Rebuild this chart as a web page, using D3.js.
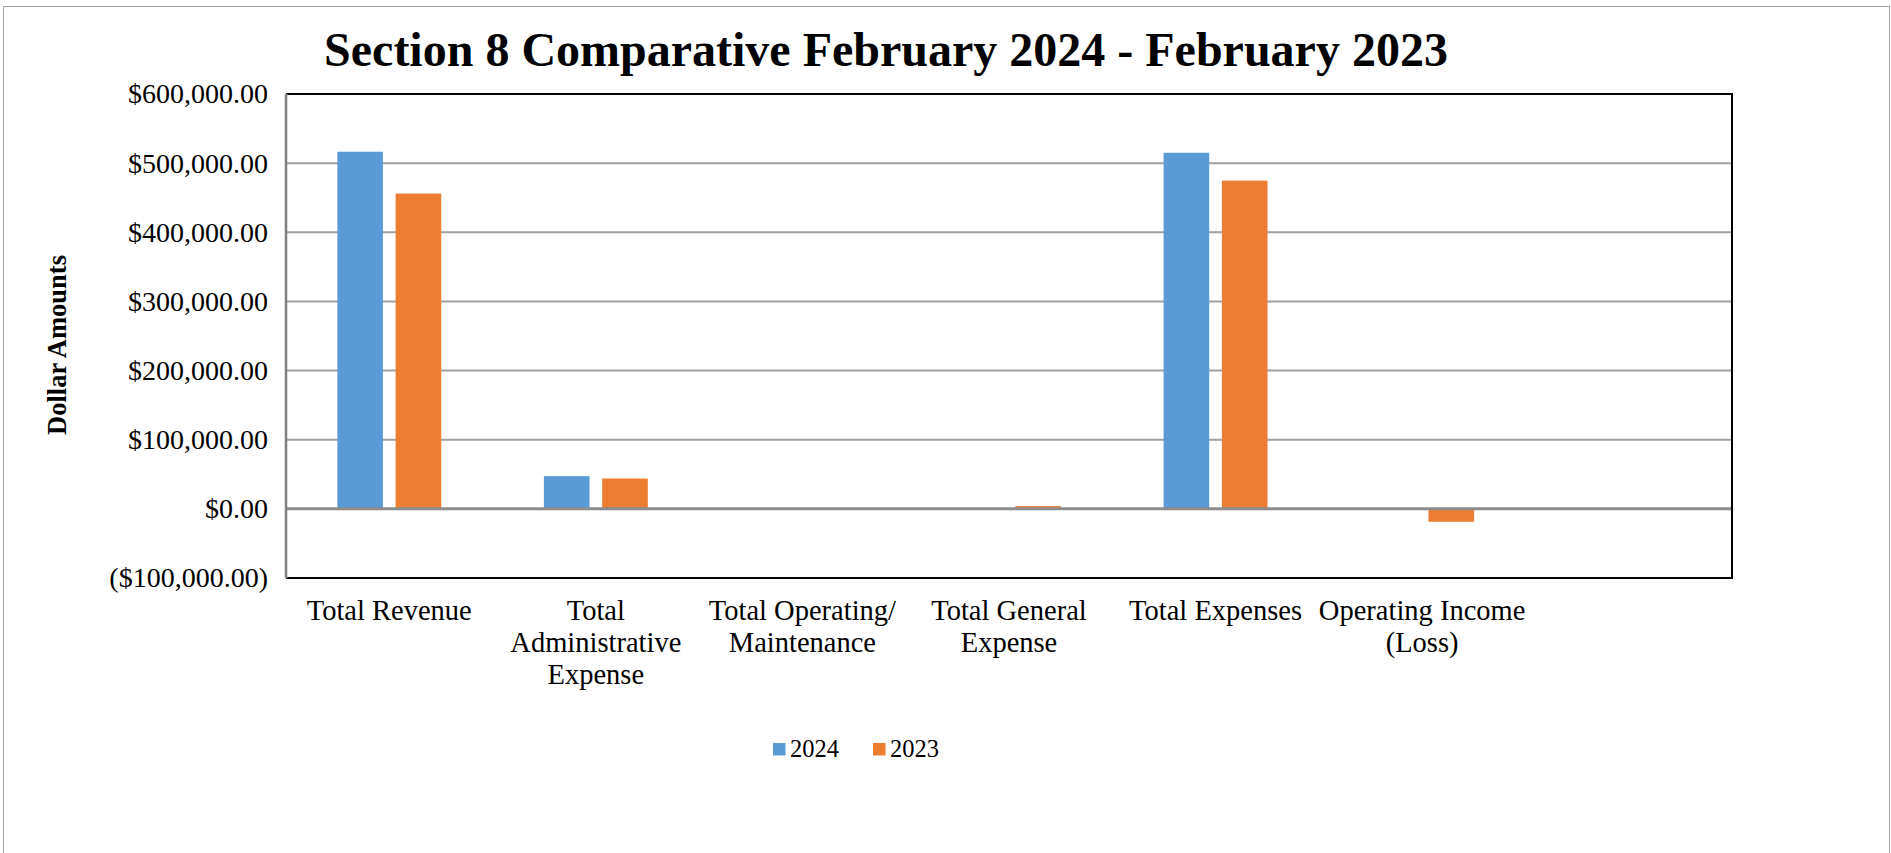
<!DOCTYPE html>
<html>
<head>
<meta charset="utf-8">
<script src="https://cdn.jsdelivr.net/npm/d3@7"></script>
<style>
  html, body { margin: 0; padding: 0; background: #fff; }
  svg { display: block; }
  text { font-family: "Liberation Serif", "Times New Roman", serif; fill: #000; }
</style>
</head>
<body>
<svg id="chart" width="1891" height="853"></svg>
<script>
// Categories (the last slot is an empty category, as in the workbook)
const categories = [
  "Total Revenue",
  "Total Administrative Expense",
  "Total Operating/ Maintenance",
  "Total General Expense",
  "Total Expenses",
  "Operating Income (Loss)",
  ""
];
// Wrapped label lines for each category
const categoryLines = [
  ["Total Revenue"],
  ["Total", "Administrative", "Expense"],
  ["Total Operating/", "Maintenance"],
  ["Total General", "Expense"],
  ["Total Expenses"],
  ["Operating Income", "(Loss)"],
  []
];
const seriesNames = ["2024", "2023"];
const values2024 = [516500, 47300, 0, 0, 515000, 1500, null];
const values2023 = [456000, 43900, 0, 4000, 474700, -18700, null];
const seriesColors = ["#5B9BD5", "#ED7D31"];
const tickValues = [-100000, 0, 100000, 200000, 300000, 400000, 500000, 600000];
const titleText = "Section 8 Comparative February 2024 - February 2023";
const yAxisTitle = "Dollar Amounts";

const svg = d3.select("#chart");
const W = 1891, H = 853;
const plot = { left: 286, right: 1732, top: 94, bottom: 578 };
const serif = '"Liberation Serif", "Times New Roman", serif';

// outer chart frame
svg.append("rect")
  .attr("x", 3.5).attr("y", 6.5)
  .attr("width", W - 5).attr("height", H)
  .attr("fill", "#fff").attr("stroke", "#a6a6a6").attr("stroke-width", 1);

const y = d3.scaleLinear().domain([-100000, 600000]).range([plot.bottom, plot.top]);
const x0 = d3.scaleBand().domain(categories).range([plot.left, plot.right])
  .paddingInner(0.497).paddingOuter(0.2485);
const x1 = d3.scaleBand().domain(seriesNames).range([0, x0.bandwidth()]).paddingInner(0.2175);

const fmt = v => {
  const s = "$" + d3.format(",.2f")(Math.abs(v));
  return v < 0 ? "(" + s + ")" : s;
};

// gridlines
svg.append("g")
  .selectAll("line")
  .data(tickValues.filter(v => v !== 0 && v !== -100000 && v !== 600000))
  .join("line")
  .attr("x1", plot.left).attr("x2", plot.right)
  .attr("y1", d => y(d)).attr("y2", d => y(d))
  .attr("stroke", "#a0a0a0").attr("stroke-width", 2);

// y axis labels
const yAxis = d3.axisLeft(y).tickValues(tickValues).tickFormat(fmt).tickSize(0).tickPadding(18);
const gy = svg.append("g").attr("transform", `translate(${plot.left},0)`).call(yAxis);
gy.select(".domain").remove();
gy.selectAll("text")
  .style("font-family", serif)
  .style("font-size", "28px").attr("fill", "#000");

// bars
const rows = categories.map((c, i) => ({ c, vals: [values2024[i], values2023[i]] }));
const groups = svg.append("g").selectAll("g").data(rows).join("g")
  .attr("transform", d => `translate(${x0(d.c)},0)`);
groups.selectAll("rect")
  .data(d => d.vals.map((v, k) => ({ v, k })).filter(e => e.v !== null && e.v !== 0))
  .join("rect")
  .attr("x", e => x1(seriesNames[e.k]))
  .attr("width", x1.bandwidth())
  .attr("y", e => Math.min(y(e.v), y(0)))
  .attr("height", e => Math.abs(y(e.v) - y(0)))
  .attr("fill", e => seriesColors[e.k]);

// zero line
svg.append("line")
  .attr("x1", plot.left).attr("x2", plot.right)
  .attr("y1", y(0)).attr("y2", y(0))
  .attr("stroke", "#8c8c8c").attr("stroke-width", 3);

// plot frame: black top/right/bottom, grey left axis
svg.append("path")
  .attr("d", `M${plot.left},${plot.top}H${plot.right}V${plot.bottom}H${plot.left}`)
  .attr("fill", "none").attr("stroke", "#000").attr("stroke-width", 2);
svg.append("line")
  .attr("x1", plot.left).attr("x2", plot.left)
  .attr("y1", plot.top).attr("y2", plot.bottom)
  .attr("stroke", "#808080").attr("stroke-width", 2.5);

// category labels
const catG = svg.append("g");
categories.forEach((c, i) => {
  const cx = x0(c) + x0.bandwidth() / 2;
  const t = catG.append("text")
    .attr("text-anchor", "middle")
    .style("font-size", "28.5px");
  categoryLines[i].forEach((line, j) => {
    t.append("tspan").attr("x", cx).attr("y", 620 + j * 32).text(line);
  });
});

// title
svg.append("text")
  .attr("x", 886).attr("y", 66)
  .attr("text-anchor", "middle")
  .style("font-size", "48px").style("font-weight", "bold")
  .text(titleText);

// y axis title
svg.append("text")
  .attr("transform", `translate(57,345) rotate(-90)`)
  .attr("text-anchor", "middle").attr("dy", "0.35em")
  .style("font-size", "26.5px").style("font-weight", "bold")
  .text(yAxisTitle);

// legend
const legend = svg.append("g");
const legendX = [773, 873];
seriesNames.forEach((s, k) => {
  legend.append("rect")
    .attr("x", legendX[k]).attr("y", 743)
    .attr("width", 12.5).attr("height", 12.5)
    .attr("fill", seriesColors[k]);
  legend.append("text")
    .attr("x", legendX[k] + 17).attr("y", 757)
    .style("font-size", "24.5px")
    .text(s);
});
</script>
</body>
</html>
